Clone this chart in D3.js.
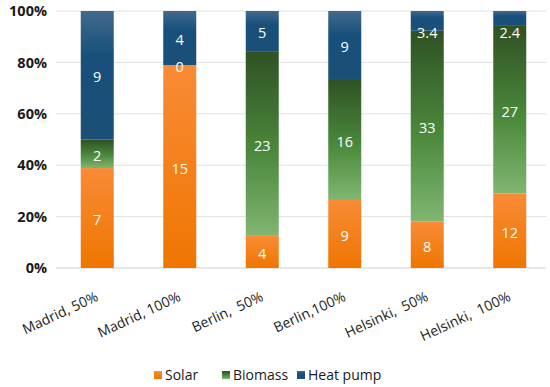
<!DOCTYPE html>
<html>
<head>
<meta charset="utf-8">
<script src="https://cdn.jsdelivr.net/npm/d3@7"></script>
<style>
  body { margin: 0; background: #fff; }
  svg text { font-family: "Open Sans", "DejaVu Sans", sans-serif; }
</style>
</head>
<body>
<div id="chart"></div>
<script>
// data
const categories = ["Madrid, 50%", "Madrid, 100%", "Berlin,  50%", "Berlin,100%", "Helsinki,  50%", "Helsinki,  100%"];
const seriesNames = ["Solar", "Biomass", "Heat pump"];
const solar = [7, 15, 4, 9, 8, 12];
const biomass = [2, 0, 23, 16, 33, 27];
const heatPump = [9, 4, 5, 9, 3.4, 2.4];
const yTicks = [0, 0.2, 0.4, 0.6, 0.8, 1];

const width = 550, height = 387;
const svg = d3.select("#chart").append("svg")
    .attr("width", width)
    .attr("height", height);

// gradients like the office-style fills
const defs = svg.append("defs");
const grads = {
    "Solar": [["0%", "#f98b36"], ["100%", "#ee7600"]],
    "Biomass": [["0%", "#2f5124"], ["55%", "#4b893c"], ["100%", "#80b672"]],
    "Heat pump": [["0%", "#42698c"], ["35%", "#17507b"], ["100%", "#1b4f77"]]
};
seriesNames.forEach((name, i) => {
    const lg = defs.append("linearGradient")
        .attr("id", "grad" + i)
        .attr("x1", 0).attr("y1", 0).attr("x2", 0).attr("y2", 1);
    grads[name].forEach(s => lg.append("stop").attr("offset", s[0]).attr("stop-color", s[1]));
});

const x = d3.scaleBand()
    .domain(categories)
    .range([56, 551])
    .paddingInner(0.6)
    .paddingOuter(0.3);

const y = d3.scaleLinear()
    .domain([0, 1])
    .range([268, 11]);

// gridlines
svg.append("g")
    .selectAll("line")
    .data(yTicks)
    .join("line")
    .attr("x1", 56).attr("x2", 546)
    .attr("y1", d => y(d)).attr("y2", d => y(d))
    .attr("stroke", d => d === 0 ? "#d0d0d0" : "#e0e0e0")
    .attr("stroke-width", 1);

// y axis labels
svg.append("g")
    .selectAll("text")
    .data(yTicks)
    .join("text")
    .attr("x", 47)
    .attr("y", d => y(d))
    .attr("dy", "0.36em")
    .attr("text-anchor", "end")
    .attr("font-size", 14.5)
    .attr("font-weight", "bold")
    .attr("fill", "#1a1a1a")
    .text(d3.format(".0%"));

// stack to 100%
const rows = categories.map((c, i) => ({
    cat: c, "Solar": solar[i], "Biomass": biomass[i], "Heat pump": heatPump[i]
}));
const stacked = d3.stack().keys(seriesNames).offset(d3.stackOffsetExpand)(rows);

const layers = svg.append("g")
    .selectAll("g")
    .data(stacked)
    .join("g")
    .attr("fill", (d, i) => `url(#grad${i})`);

layers.selectAll("rect")
    .data(d => d)
    .join("rect")
    .attr("x", d => x(d.data.cat))
    .attr("width", x.bandwidth())
    .attr("y", d => y(d[1]))
    .attr("height", d => y(d[0]) - y(d[1]));

// value labels
const labels = svg.append("g");
stacked.forEach(layer => {
    layer.forEach(d => {
        const top = y(d[1]), bot = y(d[0]);
        let ly = (top + bot) / 2 + 2;
        if (layer.key === "Heat pump" && bot - top < 25) ly = top + 22;
        labels.append("text")
            .attr("x", x(d.data.cat) + x.bandwidth() / 2)
            .attr("y", ly)
            .attr("dy", "0.36em")
            .attr("text-anchor", "middle")
            .attr("font-size", 14.5)
            .attr("fill", "#fff")
            .text(d.data[layer.key]);
    });
});

// x labels, rotated
svg.append("g")
    .selectAll("text")
    .data(categories)
    .join("text")
    .attr("transform", d => `translate(${x(d) + x.bandwidth() / 2 + 2},${300}) rotate(-25)`)
    .attr("text-anchor", "end")
    .attr("font-size", 14)
    .attr("fill", "#1a1a1a")
    .attr("xml:space", "preserve")
    .style("white-space", "pre")
    .text(d => d);

// legend
const legendX = [154, 222, 297];
const legend = svg.append("g")
    .selectAll("g")
    .data(seriesNames)
    .join("g")
    .attr("transform", (d, i) => `translate(${legendX[i]},375)`);
legend.append("rect")
    .attr("x", 0).attr("y", -4)
    .attr("width", 8).attr("height", 8)
    .attr("fill", (d, i) => `url(#grad${i})`);
legend.append("text")
    .attr("x", 11)
    .attr("dy", "0.36em")
    .attr("font-size", 14)
    .attr("fill", "#1a1a1a")
    .text(d => d);
</script>
</body>
</html>
